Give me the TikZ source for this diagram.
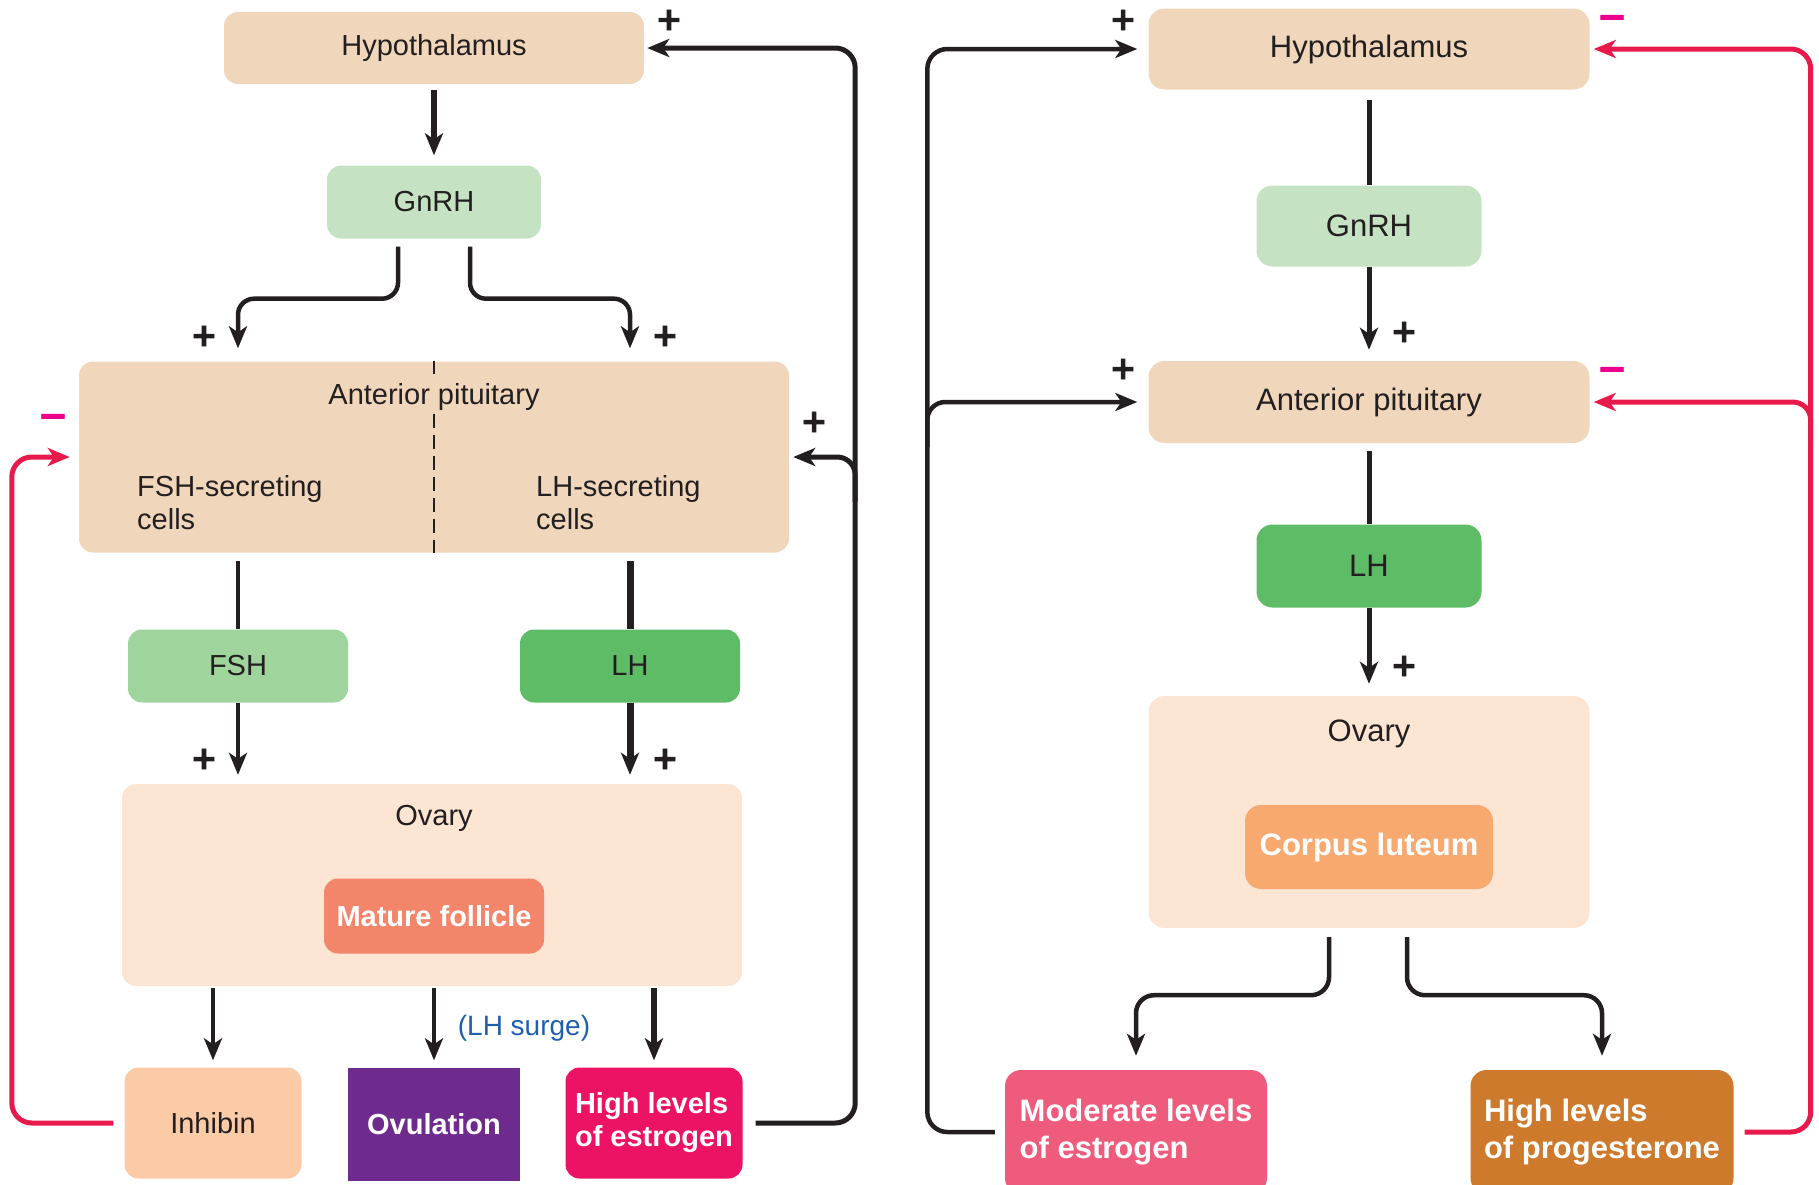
\documentclass[tikz,border=0pt]{standalone}
\usepackage{fontspec}
\setmainfont{Liberation Sans}
\newfontfamily\signfont{DejaVu Sans}[FakeBold=2.5]
\usetikzlibrary{arrows.meta}
\definecolor{tanbox}{HTML}{F0D6BA}
\definecolor{gnrhcol}{HTML}{C5E3C2}
\definecolor{fshcol}{HTML}{9FD49C}
\definecolor{lhcol}{HTML}{5EBC66}
\definecolor{ovcol}{HTML}{FDE5D3}
\definecolor{mfcol}{HTML}{F3856A}
\definecolor{clcol}{HTML}{F8A970}
\definecolor{inhcol}{HTML}{FBCBA7}
\definecolor{ovucol}{HTML}{6E2A8C}
\definecolor{hestcol}{HTML}{EC1264}
\definecolor{modcol}{HTML}{EF5B7C}
\definecolor{progcol}{HTML}{CD7A2D}
\definecolor{redarr}{HTML}{E8194B}
\definecolor{minuscol}{HTML}{EC008C}
\definecolor{surgecol}{HTML}{1F5FB0}
\definecolor{ink}{HTML}{231F20}
\begin{document}
\begin{tikzpicture}[x=1pt,y=-1pt,
  box/.style={rounded corners=14pt, inner sep=0pt, align=center, text=ink, font=\fontsize{29}{34}\selectfont},
  rbox/.style={box, rounded corners=16pt, font=\fontsize{31}{36}\selectfont},
  wbold/.style={text=white, font=\fontsize{29}{33}\selectfont\bfseries},
  rwbold/.style={text=white, font=\fontsize{31}{37}\selectfont\bfseries},
  lbl/.style={inner sep=3pt, text=ink, font=\fontsize{29}{33}\selectfont},
  rlbl/.style={inner sep=3pt, text=ink, font=\fontsize{31}{36}\selectfont},
  plus/.style={inner sep=0pt, text=ink, font=\signfont\bfseries\fontsize{32}{32}\selectfont},
  minus/.style={inner sep=0pt, text=minuscol, font=\signfont\bfseries\fontsize{36}{36}\selectfont},
  con/.style={draw=ink, line width=#1},
  tip/.style={-{Stealth[length=22pt,width=18pt,inset=6pt]}},
  redcon/.style={draw=redarr, line width=5pt},
  redtip/.style={-{Stealth[length=22pt,width=18pt,inset=6pt]}},
  dashline/.style={draw=ink, line width=2pt, dash pattern=on 14pt off 7pt}
]
\useasboundingbox (0,0) rectangle (1819,1184);

% ---------- left panel ----------
\node[box, fill=tanbox, minimum width=420pt, minimum height=72pt] (hypL) at (434,48) {Hypothalamus};
\node[box, fill=gnrhcol, minimum width=214pt, minimum height=73pt] (gnrhL) at (434,202) {GnRH};
\node[box, fill=tanbox, minimum width=710pt, minimum height=191pt] (apL) at (434,457) {};
\node[lbl] (apLt) at (434,397) {Anterior pituitary};
\node[lbl, anchor=west, align=left] (fshc) at (134,503) {FSH-secreting\\cells};
\node[lbl, anchor=west, align=left] (lhc) at (533,503) {LH-secreting\\cells};
\draw[dashline, shorten >=6pt] (apL.north) -- (apLt.north);
\draw[dashline] (apLt.south) -- (apL.south);
\node[box, fill=fshcol, minimum width=220pt, minimum height=73pt] (fsh) at (238,666) {FSH};
\node[box, fill=lhcol, minimum width=220pt, minimum height=73pt] (lhL) at (630,666) {LH};
\node[box, fill=ovcol, minimum width=620pt, minimum height=202pt] (ovL) at (432,885) {};
\node[lbl] (ovLt) at (434,818) {Ovary};
\node[box, fill=mfcol, minimum width=220pt, minimum height=75pt, wbold] (mf) at (434,916) {Mature follicle};
\node[box, fill=inhcol, minimum width=177pt, minimum height=111pt] (inh) at (213,1123) {Inhibin};
\node[box, rounded corners=0pt, fill=ovucol, minimum width=172pt, minimum height=113pt, wbold] (ovu) at (434,1124) {Ovulation};
\node[box, fill=hestcol, minimum width=177pt, minimum height=111pt, wbold, align=left] (hest) at (654,1123) {High levels\\of estrogen};
\node[inner sep=0pt, text=surgecol, font=\fontsize{28}{32}\selectfont] (surge) at (524,1028) {(LH surge)};

\draw[con=6pt, tip, shorten <=6pt, shorten >=10pt] (hypL.south) -- (gnrhL.north);
\draw[con=4.5pt, tip, rounded corners=16pt, shorten <=8pt, shorten >=13pt]
  ([xshift=-36pt]gnrhL.south) -- ++(0,60) -| (fsh |- apL.north);
\draw[con=4.5pt, tip, rounded corners=16pt, shorten <=8pt, shorten >=13pt]
  ([xshift=36pt]gnrhL.south) -- ++(0,60) -| (lhL |- apL.north);
\draw[con=4.5pt, shorten <=8pt] (fsh |- apL.south) -- (fsh.north);
\draw[con=3.5pt, tip, shorten >=9pt] (fsh.south) -- (fsh |- ovL.north);
\draw[con=7pt, shorten <=8pt] (lhL |- apL.south) -- (lhL.north);
\draw[con=7pt, tip, shorten >=9pt] (lhL.south) -- (lhL |- ovL.north);
\draw[con=4pt, tip, shorten <=2pt, shorten >=7pt] (inh |- ovL.south) -- (inh.north);
\draw[con=3.5pt, tip, shorten <=2pt, shorten >=7pt] (ovu |- ovL.south) -- (ovu.north);
\draw[con=6.5pt, tip, shorten <=2pt, shorten >=7pt] (hest |- ovL.south) -- (hest.north);
\draw[redcon, redtip, rounded corners=20pt, shorten <=11pt, shorten >=9pt]
  (inh.west) -| ([xshift=-67pt]apL.west) -- (apL.west);
\draw[con=5pt, tip, rounded corners=20pt, shorten <=13pt, shorten >=3pt]
  (hest.east) -| ([xshift=211pt]hypL.east) -- (hypL.east);
\draw[con=5pt, tip, rounded corners=18pt, shorten >=4pt]
  ([xshift=66pt,yshift=-45pt]apL.east) -- ([xshift=66pt]apL.east) -- (apL.east);

\node[plus] (p1) at (669,20) {+};
\node[plus] (p2) at (814,422) {+};
\node[plus] (p3) at (204,336) {+};
\node[plus] (p4) at (665,336) {+};
\node[plus] (p5) at (204,759) {+};
\node[plus] (p6) at (665,759) {+};
\node[minus] (m1) at (53,421) {−};

% ---------- right panel ----------
\node[rbox, fill=tanbox, minimum width=441pt, minimum height=81pt] (hypR) at (1369,49) {Hypothalamus};
\node[rbox, fill=gnrhcol, minimum width=225pt, minimum height=81pt] (gnrhR) at (1369,226) {GnRH};
\node[rbox, fill=tanbox, minimum width=441pt, minimum height=82pt] (apR) at (1369,402) {Anterior pituitary};
\node[rbox, fill=lhcol, minimum width=225pt, minimum height=83pt] (lhR) at (1369,566) {LH};
\node[rbox, fill=ovcol, minimum width=441pt, minimum height=232pt] (ovR) at (1369,812) {};
\node[rlbl] (ovRt) at (1369,734) {Ovary};
\node[rbox, fill=clcol, minimum width=248pt, minimum height=84pt, rwbold] (cl) at (1369,847) {Corpus luteum};
\node[rbox, fill=modcol, minimum width=262pt, minimum height=124pt, rwbold, align=left] (mod) at (1136,1132) {Moderate levels\\of estrogen};
\node[rbox, fill=progcol, minimum width=263pt, minimum height=124pt, rwbold, align=left] (prog) at (1602,1132) {High levels\\of progesterone};

\draw[con=5pt, shorten <=10pt] (hypR.south) -- (gnrhR.north);
\draw[con=5pt, tip, shorten >=11pt] (gnrhR.south) -- (apR.north);
\draw[con=5pt, shorten <=8pt] (apR.south) -- (lhR.north);
\draw[con=5pt, tip, shorten >=12pt] (lhR.south) -- (ovR.north);
\draw[con=4.5pt, tip, rounded corners=18pt, shorten <=9pt, shorten >=14pt]
  ([xshift=-40pt]ovR.south) -- ++(0,67) -| (mod.north);
\draw[con=4.5pt, tip, rounded corners=18pt, shorten <=9pt, shorten >=14pt]
  ([xshift=38pt]ovR.south) -- ++(0,67) -| (prog.north);
\draw[con=4.5pt, tip, rounded corners=20pt, shorten <=10pt, shorten >=11pt]
  (mod.west) -| ([xshift=-221pt]hypR.west) -- (hypR.west);
\draw[con=4.5pt, tip, rounded corners=18pt, shorten >=11pt]
  ([xshift=-221pt,yshift=-45pt]apR.west) -- ([xshift=-221pt]apR.west) -- (apR.west);
\draw[redcon, redtip, rounded corners=20pt, shorten <=11pt, shorten >=4pt]
  (prog.east) -| ([xshift=221pt]hypR.east) -- (hypR.east);
\draw[redcon, redtip, rounded corners=18pt, shorten >=4pt]
  ([xshift=221pt,yshift=-45pt]apR.east) -- ([xshift=221pt]apR.east) -- (apR.east);

\node[plus] (p7) at (1123,20) {+};
\node[plus] (p8) at (1123,369) {+};
\node[plus] (p9) at (1404,332) {+};
\node[plus] (p10) at (1404,666) {+};
\node[minus] (m2) at (1612,22) {−};
\node[minus] (m3) at (1612,374) {−};
\end{tikzpicture}
\end{document}
